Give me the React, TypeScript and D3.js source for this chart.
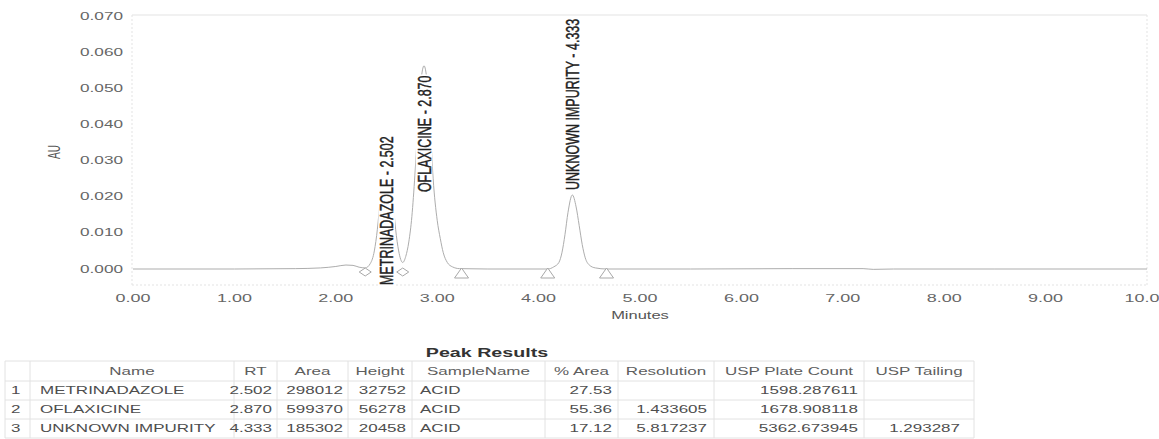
import React, { useEffect, useRef } from "react";
import * as d3 from "d3";

// chromatogram trace (minutes, AU)
const traceTimes = [
  0, 1.0, 1.6, 1.85, 2.0, 2.1, 2.17, 2.23, 2.29, 2.34, 2.38, 2.41, 2.44, 2.47, 2.502,
  2.53, 2.56, 2.59, 2.62, 2.66, 2.69, 2.72, 2.75, 2.78, 2.81, 2.84, 2.87, 2.9, 2.93,
  2.96, 3.0, 3.03, 3.06, 3.1, 3.15, 3.22, 3.5, 4.09, 4.15, 4.2, 4.23, 4.26, 4.29, 4.333,
  4.37, 4.4, 4.43, 4.46, 4.5, 4.56, 4.67, 5.5, 6.5, 7.2, 7.3, 7.5, 8.5, 10,
];
const traceAU = [
  0, 0, 0.0001, 0.0003, 0.0007, 0.0011, 0.001, 0.0005, 0.0003, 0.0015, 0.005, 0.011, 0.02, 0.029, 0.0328,
  0.029, 0.02, 0.011, 0.005, 0.0018, 0.0035, 0.0075, 0.0145, 0.026, 0.04, 0.052, 0.0563, 0.052, 0.04,
  0.025, 0.0135, 0.0085, 0.0045, 0.0018, 0.0006, 0.0001, 0, 0, 0.0006, 0.0018, 0.0045, 0.0095, 0.0157, 0.0205,
  0.0172, 0.0121, 0.0068, 0.0031, 0.0011, 0.0003, 0, 0, 0.0001, 0.0001, -0.0001, 0, 0, 0,
];

// integration marks
const eventTimes = [2.29, 2.66, 3.24, 4.09, 4.67];
const eventKinds = ["valley", "valley", "base", "base", "base"];

// peak results
const peakNames = ["METRINADAZOLE", "OFLAXICINE", "UNKNOWN IMPURITY"];
const retentionTimes = [2.502, 2.87, 4.333];
const peakAreas = [298012, 599370, 185302];
const peakHeights = [32752, 56278, 20458];
const sampleNames = ["ACID", "ACID", "ACID"];
const pctAreas = ["27.53", "55.36", "17.12"];
const resolutions = ["", "1.433605", "5.817237"];
const plateCounts = ["1598.287611", "1678.908118", "5362.673945"];
const tailings = ["", "", "1.293287"];
const labelBaseAU = [-0.0044, 0.0213, 0.0219];

const tableHeaders = ["", "Name", "RT", "Area", "Height", "SampleName", "% Area", "Resolution", "USP Plate Count", "USP Tailing"];
const xTicks = [0, 1, 2, 3, 4, 5, 6, 7, 8, 9, 10];
const yTicks = [0, 0.01, 0.02, 0.03, 0.04, 0.05, 0.06, 0.07];

const W = 1159;
const H = 439;
const FONT = "'Liberation Sans', Arial, sans-serif";

const App = () => {
  const ref = useRef<SVGSVGElement>(null);

  useEffect(() => {
    const svg = d3.select(ref.current);
    svg.selectAll("*").remove();

    const x = d3.scaleLinear().domain([0, 10]).range([133, 1147]);
    const y = d3.scaleLinear().domain([0, 0.07]).range([269, 16.3]);
    const plot = { left: 132, right: 1147, top: 15, bottom: 285 };

    const stretched = (g, px, py, sx, txt, anchor, size, fill, weight = "normal") =>
      g
        .append("text")
        .attr("transform", `translate(${px},${py}) scale(${sx},1)`)
        .attr("text-anchor", anchor)
        .attr("font-family", FONT)
        .attr("font-size", size)
        .attr("font-weight", weight)
        .attr("fill", fill)
        .text(txt);

    // frame
    const frame = svg.append("g").attr("stroke", "#e3e3e3").attr("fill", "none");
    frame.append("line").attr("x1", plot.left).attr("x2", plot.right).attr("y1", plot.top).attr("y2", plot.top);
    frame.append("line").attr("x1", plot.left).attr("x2", plot.right).attr("y1", plot.bottom).attr("y2", plot.bottom).attr("stroke-dasharray", "2,2");
    frame.append("line").attr("x1", plot.left).attr("x2", plot.left).attr("y1", plot.top).attr("y2", plot.bottom).attr("stroke-dasharray", "2,2");
    frame.append("line").attr("x1", plot.right).attr("x2", plot.right).attr("y1", plot.top).attr("y2", plot.bottom).attr("stroke-dasharray", "2,2");

    // y ticks
    yTicks.forEach((v) => stretched(svg, 123, y(v) + 3.5, 1.72, v.toFixed(3), "end", 10, "#666"));
    svg
      .append("text")
      .attr("transform", `translate(60,152) scale(1.6,1) rotate(-90)`)
      .attr("text-anchor", "middle")
      .attr("font-family", FONT)
      .attr("font-size", 10)
      .attr("fill", "#555")
      .text("AU");

    // x ticks
    xTicks.forEach((t) => stretched(svg, x(t), 301.6, 1.8, t.toFixed(2), "middle", 10, "#666"));
    stretched(svg, x(5), 318.5, 1.65, "Minutes", "middle", 10, "#555");

    // trace
    const line = d3
      .line<number>()
      .x((t) => x(t))
      .y((_, i) => y(traceAU[i]))
      .curve(d3.curveMonotoneX);
    svg
      .append("path")
      .attr("d", line(traceTimes))
      .attr("fill", "none")
      .attr("stroke", "#adadad")
      .attr("stroke-width", 1);

    // integration marks
    eventTimes.forEach((t, i) => {
      const cx = x(t);
      const top = y(0) - 1;
      const d =
        eventKinds[i] === "valley"
          ? `M${cx - 6},${top + 4}L${cx},${top}L${cx + 6},${top + 4}L${cx},${top + 8}Z`
          : `M${cx},${top}L${cx + 7},${top + 10}L${cx - 7},${top + 10}Z`;
      svg.append("path").attr("d", d).attr("fill", "#fff").attr("stroke", "#a8a8a8").attr("stroke-width", 1);
    });

    // peak labels
    peakNames.forEach((name, i) => {
      const g = svg
        .append("g")
        .attr("transform", `translate(${x(retentionTimes[i])},${y(labelBaseAU[i])}) scale(1.5,1) rotate(-90)`);
      const bg = g.append("rect").attr("fill", "#fff");
      const txt = g
        .append("text")
        .attr("font-family", FONT)
        .attr("font-size", 12.5)
        .attr("dy", "0.35em")
        .attr("fill", "#222")
        .attr("stroke", "#222")
        .attr("stroke-width", 0.3)
        .text(`${name} - ${retentionTimes[i].toFixed(3)}`);
      const len = (txt.node() as SVGTextElement).getComputedTextLength();
      bg.attr("x", -1).attr("y", -5.5).attr("width", len + 2).attr("height", 11);
    });

    // table
    stretched(svg, 487, 356.5, 1.64, "Peak Results", "middle", 12, "#333", "bold");
    const colEdges = [5, 30, 234, 277, 348, 412, 545, 618, 714, 864, 974];
    const rowEdges = [361, 381, 400, 419, 438];
    const grid = svg.append("g").attr("stroke", "#e2e2e2");
    rowEdges.forEach((r) =>
      grid.append("line").attr("x1", colEdges[0]).attr("x2", colEdges[colEdges.length - 1]).attr("y1", r).attr("y2", r)
    );
    colEdges.forEach((c) =>
      grid.append("line").attr("x1", c).attr("x2", c).attr("y1", rowEdges[0]).attr("y2", rowEdges[rowEdges.length - 1])
    );

    tableHeaders.forEach((h, c) =>
      stretched(svg, (colEdges[c] + colEdges[c + 1]) / 2, (rowEdges[0] + rowEdges[1]) / 2 + 3.5, 1.7, h, "middle", 10, "#5e5e5e")
    );

    const align = ["start", "start", "end", "end", "end", "start", "end", "end", "end", "end"];
    const pad = [6, 10, 5, 5, 6, 8, 6, 7, 6, 14];
    peakNames.forEach((name, r) => {
      const cells = [
        String(r + 1),
        name,
        retentionTimes[r].toFixed(3),
        String(peakAreas[r]),
        String(peakHeights[r]),
        sampleNames[r],
        pctAreas[r],
        resolutions[r],
        plateCounts[r],
        tailings[r],
      ];
      const cy = (rowEdges[r + 1] + rowEdges[r + 2]) / 2 + 3.5;
      cells.forEach((v, c) => {
        const px = align[c] === "start" ? colEdges[c] + pad[c] : colEdges[c + 1] - pad[c];
        stretched(svg, px, cy, 1.7, v, align[c], 10, "#4e4e4e");
      });
    });
  }, []);

  return (
    <svg
      ref={ref}
      width={W}
      height={H}
      style={{ position: "absolute", left: 0, top: 0, background: "#fff" }}
    />
  );
};

export default App;
